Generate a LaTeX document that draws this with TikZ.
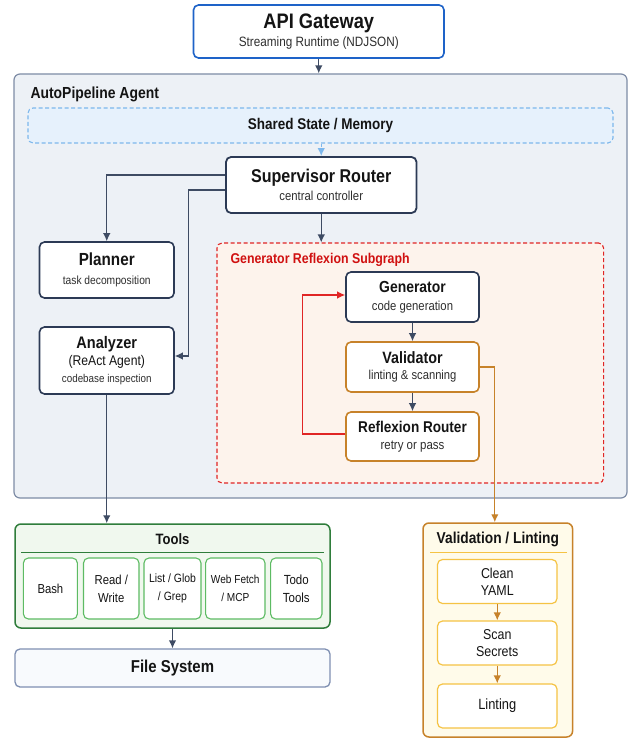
\documentclass[tikz,border=0pt]{standalone}
\usepackage{fontspec}
\setmainfont{Liberation Sans}[FakeStretch=0.87]
\usetikzlibrary{arrows.meta,calc}
\definecolor{gwblue}{HTML}{1E63C8}
\definecolor{navy}{HTML}{2C3A55}
\definecolor{arrc}{HTML}{3E4B63}
\definecolor{agentfill}{HTML}{EDF1F6}
\definecolor{agentdraw}{HTML}{7E8CA6}
\definecolor{shfill}{HTML}{E6F1FC}
\definecolor{shdraw}{HTML}{7DB7EC}
\definecolor{redc}{HTML}{E02525}
\definecolor{redtext}{HTML}{D01010}
\definecolor{subfill}{HTML}{FDF3EC}
\definecolor{orangec}{HTML}{C7822A}
\definecolor{greenc}{HTML}{2F7D3B}
\definecolor{greenfill}{HTML}{F0F8EE}
\definecolor{greensub}{HTML}{5DBB63}
\definecolor{fsdraw}{HTML}{7F8FB2}
\definecolor{fsfill}{HTML}{F8FAFD}
\definecolor{vlfill}{HTML}{FFFBEA}
\definecolor{yellowc}{HTML}{F5C344}
\definecolor{txt}{HTML}{141414}
\definecolor{subtxt}{HTML}{2E2E2E}
\newcommand\mytf[1]{\fontsize{#1}{#1}\bfseries}
\newcommand\myrf[2]{\fontsize{#1}{#2}\selectfont}
\begin{document}
\begin{tikzpicture}[x=1pt,y=1pt,
  box/.style={rectangle, rounded corners=5pt, inner sep=0pt, align=center, text=txt, fill=white, line width=1.6pt},
  navybox/.style={box, draw=navy},
  orbox/.style={box, draw=orangec},
  toolbox/.style={box, draw=greensub, line width=1.1pt, minimum height=61},
  lintbox/.style={box, draw=yellowc, line width=1.2pt, minimum width=119.5, minimum height=44},
  group/.style={rectangle, rounded corners=6pt, inner sep=0pt},
  tip/.style={-{Latex[length=8pt,width=7.5pt]}},
  arr/.style={draw=arrc, line width=1.3pt, tip},
  oarr/.style={draw=orangec, line width=1.3pt, tip},
  rarr/.style={draw=redc, line width=1.3pt, tip},
  sarr/.style={draw=shdraw, line width=1.2pt, dash pattern=on 3pt off 2pt, tip},
]
\useasboundingbox (0,0) rectangle (632,-738);
\fill[white] (0,0) rectangle (632,-738);

% AutoPipeline Agent container
\node[group, draw=agentdraw, fill=agentfill, line width=1.2pt, minimum width=613, minimum height=424] (agent) at (320.5,-286) {};
\node[anchor=west, text=txt, font={\mytf{16}}] (agentlbl) at (27,-94) {AutoPipeline Agent};

% API Gateway
\node[box, draw=gwblue, minimum width=250.5, minimum height=53, font={\myrf{13.5}{18}}] (gw) at (318.75,-31.5)
  {{\mytf{21}API Gateway}\\{\color{subtxt}Streaming Runtime (NDJSON)}};

% Shared state
\node[group, draw=shdraw, fill=shfill, dash pattern=on 4pt off 2.5pt, line width=1.1pt, rounded corners=5pt,
  minimum width=585, minimum height=35, text=txt, font={\mytf{15.5}}] (shared) at (320.5,-125.5) {Shared State / Memory};

% Supervisor
\node[navybox, line width=1.8pt, minimum width=190.5, minimum height=56, font={\myrf{13}{18}}] (sup) at (321.25,-185)
  {{\mytf{18.5}Supervisor Router}\\{\color{subtxt}central controller}};

% Planner & Analyzer
\node[navybox, minimum width=134.5, minimum height=56, font={\myrf{11.8}{19}}] (plan) at (106.75,-270)
  {{\mytf{17.5}Planner}\\{\color{subtxt}task decomposition}};
\node[navybox, minimum width=134.5, minimum height=67, font={\myrf{11.3}{17}}] (ana) at (106.75,-360.5)
  {{\mytf{16.7}Analyzer}\\{\myrf{14}{17}(ReAct Agent)}\\{\color{subtxt}codebase inspection}};

% Reflexion subgraph
\node[group, draw=redc, fill=subfill, dash pattern=on 4pt off 2.5pt, line width=1.1pt, rounded corners=5pt,
  minimum width=386.6, minimum height=240] (subg) at (410.3,-363) {};
\node[anchor=west, text=redtext, font={\mytf{14.2}}] (subglbl) at (227,-260) {Generator Reflexion Subgraph};

\node[navybox, minimum width=133, minimum height=50, font={\myrf{13}{18}}] (gen) at (412.5,-297)
  {{\mytf{16}Generator}\\{\color{subtxt}code generation}};
\node[orbox, minimum width=133, minimum height=50, font={\myrf{12.9}{16.5}}] (val) at (412.5,-367)
  {{\mytf{16.4}Validator}\\{\color{subtxt}linting \& scanning}};
\node[orbox, minimum width=133, minimum height=49, font={\myrf{13.2}{17.5}}] (rr) at (412.5,-436.5)
  {{\mytf{15.6}Reflexion Router}\\{\color{subtxt}retry or pass}};

% Tools
\node[group, draw=greenc, fill=greenfill, line width=1.5pt, minimum width=315, minimum height=104] (tools) at (172.5,-576) {};
\node[text=txt, font={\mytf{15}}] (toolslbl) at (172.5,-539) {Tools};
\draw[greenc, line width=1pt] (21,-552) coordinate (tl1) -- (324,-552) coordinate (tl2);
\node[toolbox, minimum width=54, font={\myrf{13}{18}}] (bash) at (50.4,-588.5) {Bash};
\node[toolbox, minimum width=55.5, font={\myrf{13}{18}}] (rw) at (111.25,-588.5) {Read /\\Write};
\node[toolbox, minimum width=57, font={\myrf{12}{18}}] (lg) at (172.5,-588.5) {List / Glob\\/ Grep};
\node[toolbox, minimum width=59.4, font={\myrf{11.6}{18}}] (wf) at (235.3,-588.5) {Web Fetch\\/ MCP};
\node[toolbox, minimum width=51.4, font={\myrf{13.2}{18}}] (todo) at (296.3,-588.5) {Todo\\Tools};

% File system
\node[group, draw=fsdraw, fill=fsfill, line width=1.3pt, rounded corners=5pt, minimum width=315, minimum height=38,
  text=txt, font={\mytf{17.2}}] (fs) at (172.5,-668) {File System};

% Validation / Linting
\node[group, draw=orangec, fill=vlfill, line width=1.5pt, minimum width=149.6, minimum height=214] (vl) at (497.8,-630) {};
\node[text=txt, font={\mytf{15.8}}] (vllbl) at (497.8,-539) {Validation / Linting};
\draw[yellowc, line width=1pt] (430,-552) coordinate (vl1) -- (566.5,-552) coordinate (vl2);
\node[lintbox, font={\myrf{14.3}{17}}] (clean) at (497.25,-581.5) {Clean\\YAML};
\node[lintbox, font={\myrf{14.3}{16.5}}] (scan) at (497.25,-643) {Scan\\Secrets};
\node[lintbox, font={\myrf{14.8}{17}}] (lint) at (497.25,-706) {Linting};

% Connectors
\draw[arr] (gw.south) -- (gw.south |- agent.north);
\draw[sarr] (sup.north |- shared.south) -- (sup.north);
\draw[arr] ([yshift=10pt]sup.west) -| (plan.north);
\draw[arr] ([yshift=-5pt]sup.west) -- ++(-36.5,0) |- ([yshift=4.5pt]ana.east);
\draw[arr] (sup.south) -- (sup.south |- subg.north);
\draw[arr] (gen.south) -- (val.north);
\draw[arr] (val.south) -- (rr.north);
\draw[rarr] ([yshift=2.5pt]rr.west) -- ++(-42.4,0) |- ([yshift=2pt]gen.west);
\draw[oarr] (val.east) -- ++(15,0) coordinate (vo) -- (vo |- vl.north);
\draw[arr] (ana.south) -- (ana.south |- tools.north);
\draw[arr] (tools.south) -- (fs.north);
\draw[oarr] (clean.south) -- (scan.north);
\draw[oarr] (scan.south) -- (lint.north);
\end{tikzpicture}
\end{document}
